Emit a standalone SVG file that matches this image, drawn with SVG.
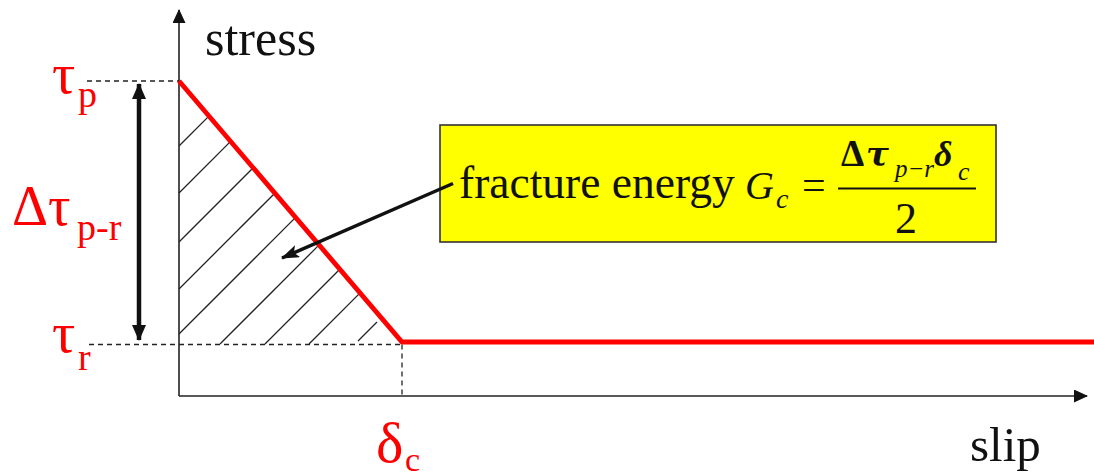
<svg xmlns="http://www.w3.org/2000/svg" width="1094" height="476" viewBox="0 0 1094 476">
<defs>
<style>
.ser{font-family:"Liberation Serif","Times New Roman",serif;}
.red{fill:#ff0000;}
.blk{fill:#111;}
.dash{stroke:#222;stroke-width:1.3;stroke-dasharray:5 4;fill:none;}
.hatch{stroke:#222;stroke-width:1.3;fill:none;}
.axis{stroke:#222;stroke-width:1.6;fill:none;}
</style>
<marker id="ax" viewBox="0 0 14 13" refX="13" refY="6.5" markerWidth="14" markerHeight="13" markerUnits="userSpaceOnUse" orient="auto"><path d="M0,0 L14,6.5 L0,13 z" fill="#111"/></marker>
<marker id="bh" viewBox="0 0 16 14" refX="15" refY="7" markerWidth="16" markerHeight="14" markerUnits="userSpaceOnUse" orient="auto"><path d="M0,0 L16,7 L0,14 z" fill="#111"/></marker>
<marker id="ph" viewBox="0 0 18 13" refX="17" refY="6.5" markerWidth="18" markerHeight="13" markerUnits="userSpaceOnUse" orient="auto"><path d="M0,0 L18,6.5 L0,13 L4,6.5 z" fill="#111"/></marker>
</defs>
<rect width="1094" height="476" fill="#fff"/>

<g id="hatching">
<line class="hatch" x1="179" y1="146" x2="208.9" y2="116.1"/>
<line class="hatch" x1="179" y1="193" x2="230.6" y2="141.4"/>
<line class="hatch" x1="179" y1="242" x2="253.2" y2="167.8"/>
<line class="hatch" x1="179" y1="289" x2="274.8" y2="193.2"/>
<line class="hatch" x1="179" y1="334" x2="295.6" y2="217.4"/>
<line class="hatch" x1="220" y1="344" x2="319.1" y2="244.9"/>
<line class="hatch" x1="265" y1="344" x2="339.8" y2="269.2"/>
<line class="hatch" x1="309" y1="344" x2="360.1" y2="292.9"/>
<line class="hatch" x1="358" y1="341" x2="377" y2="322"/>
</g>

<g id="guides">
<line class="dash" x1="87" y1="81" x2="179" y2="81"/>
<line class="dash" x1="89" y1="344.5" x2="402" y2="344.5"/>
<line class="dash" x1="402" y1="344.5" x2="402" y2="396"/>
</g>

<g id="axes">
<line class="axis" x1="179" y1="396" x2="179" y2="10" marker-end="url(#ax)"/>
<line class="axis" x1="179" y1="396" x2="1087" y2="396" marker-end="url(#ax)"/>
<text class="ser blk" x="205" y="55" font-size="50">stress</text>
<text class="ser blk" x="970" y="461" font-size="49">slip</text>
</g>

<g id="curve">
<polyline points="179,81 402,342 1094,342" fill="none" stroke="#ff0000" stroke-width="4.8" stroke-linejoin="miter"/>
</g>

<g id="label-tau-p">
<text class="ser red" x="52" y="93" font-size="58">τ</text>
<text class="ser red" x="78" y="107" font-size="38">p</text>
</g>
<g id="label-dtau">
<text class="ser red" x="12" y="225" font-size="56">Δτ</text>
<text class="ser red" x="77" y="240" font-size="38">p-r</text>
</g>
<g id="label-tau-r">
<text class="ser red" x="52" y="352" font-size="58">τ</text>
<text class="ser red" x="78" y="370" font-size="38">r</text>
</g>
<g id="label-delta-c">
<text class="ser red" x="376" y="462" font-size="58">δ</text>
<text class="ser red" x="405" y="471" font-size="34">c</text>
</g>

<g id="formula-box">
<rect x="440" y="125" width="556" height="117" fill="#ffff00" stroke="#333" stroke-width="1.6"/>
<text class="ser blk" x="459" y="198" font-size="45.5">fracture energy</text>
<text class="ser blk" x="745" y="199" font-size="40" font-style="italic">G</text>
<text class="ser blk" x="776" y="208" font-size="28" font-style="italic">c</text>
<text class="ser blk" x="802" y="199" font-size="42">=</text>
<line x1="838" y1="188.5" x2="976" y2="188.5" stroke="#111" stroke-width="2"/>
<text class="ser blk" x="841" y="166" font-size="37" font-weight="bold">Δ</text>
<text class="blk" x="866" y="166" font-size="34" font-weight="bold" font-style="italic" font-family="'DejaVu Serif',serif">τ</text>
<text class="ser blk" x="895" y="177" font-size="25" font-style="italic">p−r</text>
<text class="ser blk" x="934" y="166" font-size="36" font-weight="bold" font-style="italic">δ</text>
<text class="ser blk" x="958" y="180" font-size="26" font-style="italic">c</text>
<text class="ser blk" x="895" y="233" font-size="44">2</text>
</g>

<g id="connectors">
<line x1="139" y1="212" x2="139" y2="84" stroke="#111" stroke-width="4.5" marker-end="url(#bh)"/>
<line x1="139" y1="212" x2="139" y2="340" stroke="#111" stroke-width="4.5" marker-end="url(#bh)"/>
<line x1="453" y1="183.5" x2="282" y2="258" stroke="#111" stroke-width="3.5" marker-end="url(#ph)"/>
</g>
</svg>
